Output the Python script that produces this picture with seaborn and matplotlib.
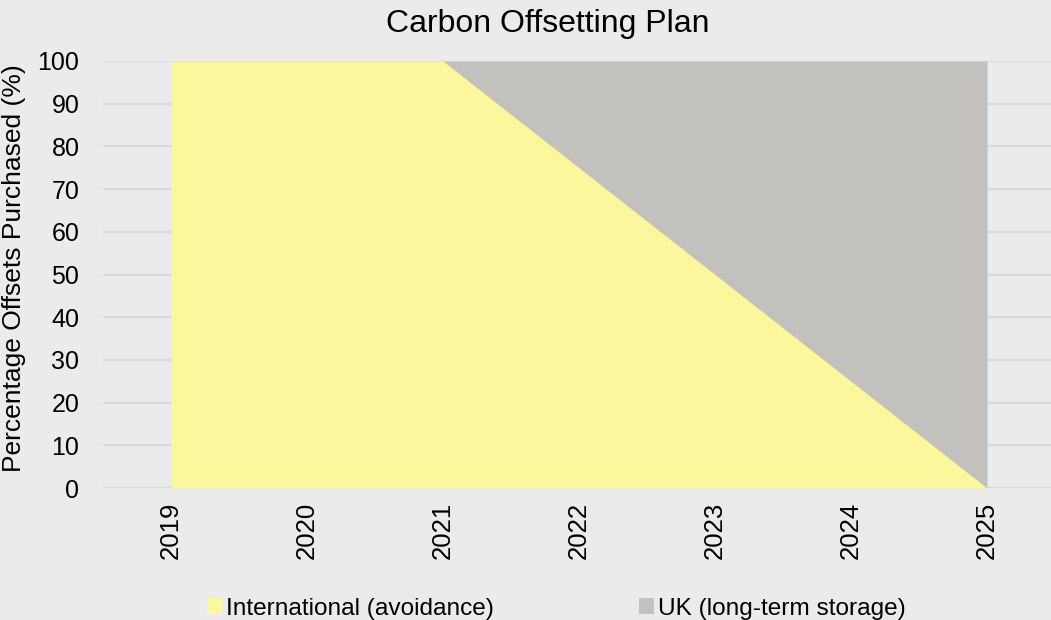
import matplotlib
matplotlib.use("Agg")
import matplotlib.pyplot as plt
import seaborn as sns
import numpy as np

years = ["2019", "2020", "2021", "2022", "2023", "2024", "2025"]
international = [100, 100, 100, 75, 50, 25, 0]
uk = [0, 0, 0, 25, 50, 75, 100]
series_names = ["International (avoidance)", "UK (long-term storage)"]
colors = ["#FCF69C", "#C2C1BD"]

sns.set_theme(style="darkgrid", rc={
    "axes.facecolor": "#EBEBEB",
    "figure.facecolor": "#EBEBEB",
    "grid.color": "#D9D9D9",
    "grid.linewidth": 1.5,
})
plt.rcParams["font.family"] = ["Liberation Sans", "DejaVu Sans"]

fig = plt.figure(figsize=(10.51, 6.2), dpi=100)
ax = fig.add_axes([103/1051, 1-488/620, (1055-103)/1051, (488-61)/620])

x = np.arange(len(years))
ax.set_axisbelow(True)
ax.stackplot(x, international, uk, colors=colors, labels=series_names, linewidth=0, zorder=2)

ax.set_xlim(-0.5, len(years) - 0.5)
ax.set_ylim(0, 100)
ax.set_yticks(range(0, 101, 10))
ax.set_xticks(x)
ax.set_xticklabels(years, rotation=90)
ax.grid(axis="x", visible=False)
ax.grid(axis="y", visible=True, zorder=0)
ax.tick_params(axis="y", labelsize=18, pad=17, length=0, colors="black")
ax.tick_params(axis="x", labelsize=18.5, pad=10, length=0, colors="black")
for s in ax.spines.values():
    s.set_visible(False)
ax.set_ylabel("Percentage Offsets Purchased (%)", fontsize=19, color="black")
ax.yaxis.set_label_coords(-77/952, (488-268)/427)
fig.text(547.5/1051, 1-32/620, "Carbon Offsetting Plan", fontsize=23, color="black",
         ha="center", va="baseline")

handles, labels = ax.get_legend_handles_labels()
fig.legend(handles, labels, loc="lower left", bbox_to_anchor=(185/1051, -0.035), ncol=2,
           frameon=False, fontsize=17.6, handlelength=0.62, handleheight=0.62,
           handletextpad=0.15, columnspacing=5.95, labelcolor="black")

fig.savefig("out.png", dpi=100, facecolor=fig.get_facecolor())
